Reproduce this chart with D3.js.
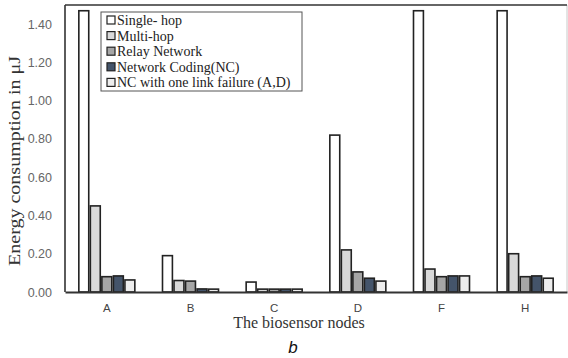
<!DOCTYPE html>
<html>
<head>
<meta charset="utf-8">
<script src="https://cdn.jsdelivr.net/npm/d3@7"></script>
<style>
  body { margin: 0; background: #fff; }
  svg { display: block; }
</style>
</head>
<body>
<svg width="568" height="358"></svg>
<script>
// node labels along the x axis
const nodes = ["A", "B", "C", "D", "F", "H"];
const seriesNames = ["Single- hop", "Multi-hop", "Relay Network", "Network Coding(NC)", "NC with one link failure (A,D)"];
const seriesColors = ["#ffffff", "#d9d9d9", "#a6a6a6", "#44546a", "#ededed"];

// energy (uJ), one array per series, ordered like nodes
const singleHop = [1.47, 0.19, 0.052, 0.82, 1.47, 1.47];
const multiHop = [0.45, 0.06, 0.015, 0.22, 0.12, 0.20];
const relayNet = [0.08, 0.057, 0.015, 0.105, 0.08, 0.08];
const netCoding = [0.084, 0.016, 0.015, 0.072, 0.084, 0.084];
const ncFailure = [0.063, 0.015, 0.015, 0.057, 0.084, 0.072];
const yTicks = [0, 0.2, 0.4, 0.6, 0.8, 1.0, 1.2, 1.4];

const series = [singleHop, multiHop, relayNet, netCoding, ncFailure];

let svg = d3.select("svg");
let mLeft = 65, mRight = 567, mTop = 5, mBottom = 292;

let x = d3.scaleBand().domain(nodes).range([mLeft, mRight]);
let inner = d3.scaleBand().domain(d3.range(series.length))
    .range([0, x.bandwidth()]).paddingInner(0.14).paddingOuter(1.2);
let y = d3.scaleLinear().domain([0, 1.5]).range([mBottom, mTop]);

// right edge of the plot area
svg.append("line")
    .attr("x1", mRight).attr("x2", mRight).attr("y1", mTop).attr("y2", mBottom)
    .attr("stroke", "#c8c8c8").attr("stroke-width", 1);

// bars
series.forEach((vals, si) => {
    svg.append("g").selectAll("rect")
        .data(vals)
        .enter()
        .append("rect")
        .attr("x", (d, i) => x(nodes[i]) + inner(si))
        .attr("y", d => y(d))
        .attr("width", inner.bandwidth())
        .attr("height", d => mBottom - y(d))
        .attr("fill", seriesColors[si])
        .attr("stroke", "#222")
        .attr("stroke-width", 1.6);
});

// frame lines (top, left)
svg.append("line")
    .attr("x1", mLeft).attr("x2", mRight).attr("y1", mTop).attr("y2", mTop)
    .attr("stroke", "#333").attr("stroke-width", 1.6);
svg.append("line")
    .attr("x1", mLeft).attr("x2", mLeft).attr("y1", mTop).attr("y2", mBottom)
    .attr("stroke", "#333").attr("stroke-width", 1.6);

let yAxis = svg.append("g")
    .attr("transform", `translate(${mLeft},0)`)
    .call(d3.axisLeft(y).tickValues(yTicks).tickFormat(d3.format(".2f")).tickSize(0).tickPadding(13));
yAxis.select(".domain").remove();
yAxis.selectAll("text")
    .attr("font-family", "Liberation Sans, Arial, sans-serif")
    .attr("font-size", 12.5)
    .attr("fill", "#666");

let xAxis = svg.append("g")
    .attr("transform", `translate(0,${mBottom})`)
    .call(d3.axisBottom(x).tickSize(0).tickPadding(12));
xAxis.select(".domain").attr("stroke", "#333").attr("stroke-width", 2);
xAxis.selectAll("text")
    .attr("font-family", "Liberation Sans, Arial, sans-serif")
    .attr("font-size", 11.5)
    .attr("fill", "#444");

// axis titles
svg.append("text")
    .attr("transform", "translate(20,161) rotate(-90)")
    .attr("text-anchor", "middle")
    .attr("font-family", "Liberation Serif, Times New Roman, serif")
    .attr("font-size", 16)
    .attr("textLength", 210)
    .attr("lengthAdjust", "spacingAndGlyphs")
    .attr("fill", "#333")
    .text("Energy consumption in μJ");

svg.append("text")
    .attr("x", 299).attr("y", 328)
    .attr("text-anchor", "middle")
    .attr("font-family", "Liberation Serif, Times New Roman, serif")
    .attr("font-size", 16)
    .attr("fill", "#333")
    .text("The biosensor nodes");

svg.append("text")
    .attr("x", 293).attr("y", 353)
    .attr("text-anchor", "middle")
    .attr("font-family", "Liberation Sans, Arial, sans-serif")
    .attr("font-style", "italic")
    .attr("font-size", 17)
    .attr("fill", "#111")
    .text("b");

// legend
let legend = svg.append("g");
legend.append("rect")
    .attr("x", 101).attr("y", 12).attr("width", 201).attr("height", 79)
    .attr("fill", "#fff").attr("stroke", "#555").attr("stroke-width", 1);
let items = legend.selectAll("g.item")
    .data(seriesNames)
    .enter()
    .append("g")
    .attr("transform", (d, i) => `translate(106,${20 + i * 15.6})`);
items.append("rect")
    .attr("x", 1).attr("y", -4).attr("width", 8).attr("height", 8)
    .attr("fill", (d, i) => seriesColors[i])
    .attr("stroke", "#222").attr("stroke-width", 1.2);
items.append("text")
    .attr("x", 11).attr("y", 5)
    .attr("font-family", "Liberation Serif, Times New Roman, serif")
    .attr("font-size", 14)
    .attr("fill", "#222")
    .text(d => d);
</script>
</body>
</html>
